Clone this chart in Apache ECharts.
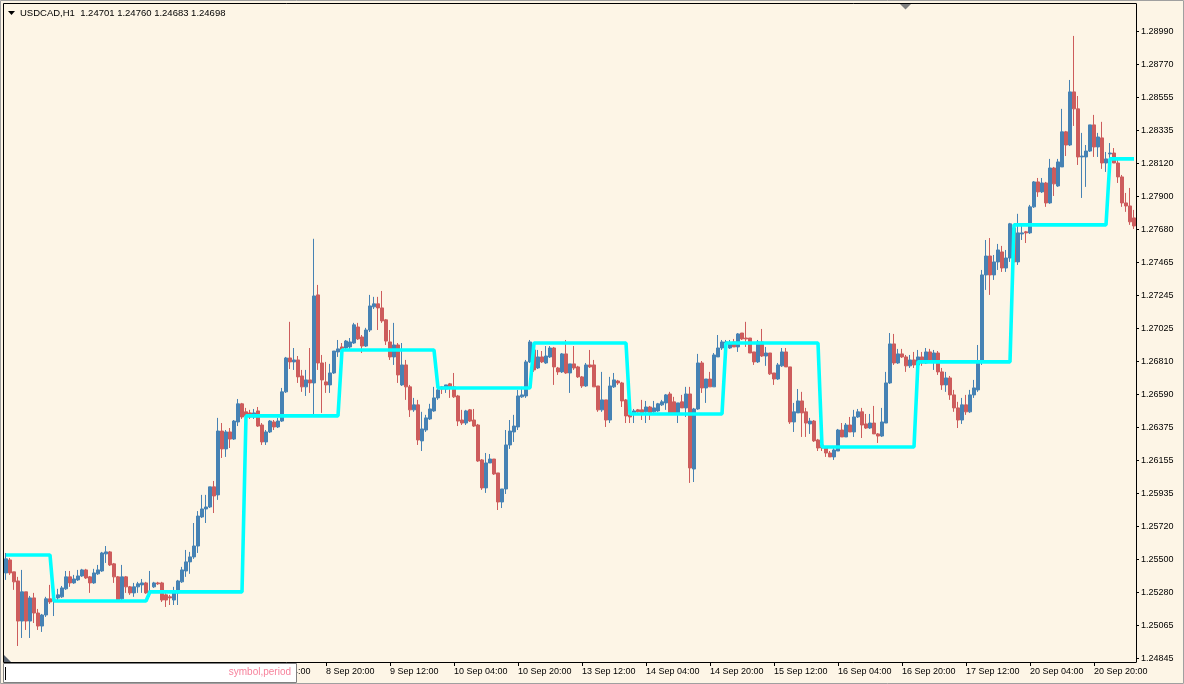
<!DOCTYPE html>
<html><head><meta charset="utf-8">
<script src="https://cdn.jsdelivr.net/npm/echarts@6/dist/echarts.min.js"></script>
<style>html,body{margin:0;padding:0;background:#FDF5E6;overflow:hidden}#c{width:1184px;height:684px}</style>
</head><body><div id="c"></div><script>
const opens = [
1.25412,1.25498,1.25419,1.25359,1.25094,1.25287,1.25094,1.25247,1.25147,1.25061,
1.25134,1.25241,1.25226,1.25247,1.25254,1.25307,1.25386,1.25346,1.25366,1.25392,
1.25432,1.25386,1.25346,1.25406,1.25425,1.25538,1.25551,1.25472,1.25386,1.25241,
1.25386,1.25320,1.25280,1.25320,1.25333,1.25346,1.25287,1.25320,1.25346,1.25346,
1.25267,1.25254,1.25233,1.25280,1.25353,1.25425,1.25485,1.25518,1.25590,1.25782,
1.25835,1.25848,1.25981,1.25928,1.26350,1.26232,1.26344,1.26297,1.26410,1.26530,
1.26477,1.26470,1.26443,1.26483,1.26390,1.26278,1.26344,1.26410,1.26377,1.26416,
1.26609,1.26833,1.26807,1.26820,1.26714,1.26642,1.26688,1.26668,1.27250,1.26800,
1.26675,1.26655,1.26734,1.26873,1.26906,1.26899,1.26906,1.26932,1.27038,1.26972,
1.26912,1.27018,1.27171,1.27191,1.27164,1.27085,1.26939,1.26840,1.26919,1.26655,
1.26787,1.26642,1.26490,1.26523,1.26285,1.26357,1.26430,1.26483,1.26569,1.26642,
1.26628,1.26662,1.26642,1.26582,1.26423,1.26403,1.26490,1.26423,1.26390,1.26159,
1.25974,1.26139,1.26165,1.26073,1.25881,1.25967,1.26258,1.26344,1.26377,1.26576,
1.26582,1.26807,1.26886,1.26767,1.26840,1.26800,1.26840,1.26899,1.26767,1.26741,
1.26860,1.26734,1.26794,1.26774,1.26708,1.26648,1.26787,1.26787,1.26648,1.26490,
1.26556,1.26423,1.26642,1.26681,1.26668,1.26556,1.26457,1.26470,1.26490,1.26490,
1.26477,1.26509,1.26477,1.26483,1.26523,1.26536,1.26595,1.26543,1.26470,1.26543,
1.26503,1.26595,1.26099,1.26496,1.26800,1.26635,1.26694,1.26642,1.26840,1.26899,
1.26932,1.26899,1.26939,1.26906,1.26998,1.26965,1.26965,1.26873,1.26807,1.26939,
1.26846,1.26866,1.26734,1.26694,1.26781,1.26873,1.26774,1.26410,1.26470,1.26549,
1.26477,1.26397,1.26416,1.26291,1.26258,1.26238,1.26205,1.26179,1.26218,1.26357,
1.26311,1.26390,1.26344,1.26443,1.26477,1.26397,1.26370,1.26403,1.26331,1.26317,
1.26403,1.26668,1.26926,1.26800,1.26860,1.26840,1.26781,1.26820,1.26787,1.26840,
1.26800,1.26873,1.26820,1.26866,1.26741,1.26655,1.26701,1.26589,1.26503,1.26423,
1.26523,1.26477,1.26589,1.26622,1.26807,1.27382,1.27507,1.27382,1.27468,1.27534,
1.27428,1.27494,1.27693,1.27468,1.27653,1.27667,1.27660,1.27832,1.27997,1.27931,
1.27990,1.27858,1.28089,1.27970,1.28096,1.28328,1.28241,1.28592,1.28480,1.28162,
1.28162,1.28201,1.28374,1.28228,1.28288,1.28122,1.28182,1.28188,1.28122,1.28030,
1.27858,1.27838,1.27759];
const closes = [
1.25505,1.25412,1.25353,1.25094,1.25287,1.25094,1.25247,1.25147,1.25061,1.25134,
1.25241,1.25220,1.25233,1.25267,1.25313,1.25386,1.25346,1.25372,1.25392,1.25432,
1.25379,1.25346,1.25412,1.25432,1.25544,1.25551,1.25465,1.25386,1.25233,1.25386,
1.25320,1.25280,1.25320,1.25340,1.25346,1.25280,1.25293,1.25346,1.25340,1.25233,
1.25233,1.25247,1.25280,1.25359,1.25432,1.25485,1.25518,1.25590,1.25788,1.25835,
1.25848,1.25981,1.25921,1.26350,1.26232,1.26344,1.26297,1.26416,1.26530,1.26443,
1.26450,1.26443,1.26470,1.26383,1.26278,1.26344,1.26416,1.26377,1.26416,1.26609,
1.26833,1.26807,1.26820,1.26708,1.26642,1.26688,1.26668,1.27243,1.26800,1.26688,
1.26655,1.26734,1.26879,1.26893,1.26886,1.26945,1.26939,1.27052,1.26959,1.26912,
1.27018,1.27177,1.27191,1.27164,1.27078,1.26945,1.26840,1.26919,1.26721,1.26787,
1.26642,1.26490,1.26523,1.26291,1.26364,1.26437,1.26496,1.26569,1.26622,1.26628,
1.26655,1.26642,1.26576,1.26416,1.26403,1.26483,1.26416,1.26383,1.26152,1.25974,
1.26139,1.26165,1.26066,1.25881,1.25967,1.26258,1.26350,1.26383,1.26582,1.26589,
1.26807,1.26939,1.26754,1.26840,1.26807,1.26846,1.26899,1.26774,1.26741,1.26860,
1.26734,1.26794,1.26767,1.26708,1.26648,1.26787,1.26774,1.26642,1.26490,1.26556,
1.26423,1.26648,1.26688,1.26668,1.26549,1.26450,1.26443,1.26483,1.26477,1.26470,
1.26509,1.26470,1.26503,1.26530,1.26543,1.26589,1.26470,1.26470,1.26536,1.26503,
1.26595,1.26106,1.26496,1.26800,1.26635,1.26694,1.26642,1.26853,1.26899,1.26939,
1.26939,1.26932,1.26906,1.26992,1.26959,1.26959,1.26866,1.26807,1.26939,1.26846,
1.26866,1.26728,1.26694,1.26787,1.26873,1.26774,1.26410,1.26477,1.26549,1.26470,
1.26403,1.26416,1.26285,1.26238,1.26238,1.26205,1.26179,1.26225,1.26357,1.26311,
1.26390,1.26344,1.26443,1.26477,1.26390,1.26370,1.26403,1.26331,1.26317,1.26410,
1.26668,1.26926,1.26800,1.26860,1.26840,1.26781,1.26820,1.26787,1.26840,1.26800,
1.26873,1.26820,1.26866,1.26741,1.26655,1.26701,1.26589,1.26503,1.26423,1.26523,
1.26477,1.26589,1.26635,1.26807,1.27382,1.27507,1.27382,1.27468,1.27547,1.27428,
1.27494,1.27720,1.27468,1.27660,1.27660,1.27660,1.27832,1.27997,1.27931,1.27990,
1.27858,1.28089,1.27984,1.28129,1.28328,1.28241,1.28592,1.28480,1.28162,1.28168,
1.28201,1.28374,1.28228,1.28294,1.28122,1.28149,1.28188,1.28122,1.28030,1.27858,
1.27838,1.27733,1.27706];
const lows = [
1.25366,1.25399,1.25300,1.24929,1.24982,1.25035,1.24982,1.25081,1.25035,1.25022,
1.25121,1.25207,1.25127,1.25233,1.25247,1.25300,1.25320,1.25340,1.25359,1.25386,
1.25372,1.25280,1.25340,1.25399,1.25419,1.25478,1.25458,1.25346,1.25226,1.25220,
1.25280,1.25267,1.25254,1.25280,1.25280,1.25274,1.25254,1.25313,1.25333,1.25220,
1.25187,1.25200,1.25200,1.25200,1.25346,1.25386,1.25406,1.25505,1.25544,1.25775,
1.25742,1.25841,1.25808,1.25895,1.26172,1.26179,1.26238,1.26291,1.26383,1.26430,
1.26443,1.26430,1.26430,1.26377,1.26258,1.26258,1.26337,1.26357,1.26370,1.26410,
1.26602,1.26760,1.26754,1.26668,1.26609,1.26582,1.26602,1.26457,1.26754,1.26470,
1.26602,1.26602,1.26728,1.26840,1.26873,1.26886,1.26886,1.26926,1.26952,1.26866,
1.26906,1.27005,1.27157,1.27018,1.27065,1.26919,1.26820,1.26787,1.26668,1.26648,
1.26556,1.26443,1.26477,1.26258,1.26218,1.26344,1.26423,1.26477,1.26556,1.26595,
1.26602,1.26569,1.26569,1.26383,1.26390,1.26390,1.26410,1.26377,1.26146,1.25961,
1.25941,1.26139,1.26060,1.25828,1.25841,1.25934,1.26232,1.26278,1.26357,1.26569,
1.26569,1.26800,1.26741,1.26760,1.26800,1.26794,1.26833,1.26655,1.26721,1.26734,
1.26728,1.26602,1.26754,1.26701,1.26635,1.26642,1.26767,1.26642,1.26477,1.26477,
1.26377,1.26403,1.26635,1.26655,1.26509,1.26403,1.26403,1.26403,1.26470,1.26423,
1.26403,1.26423,1.26470,1.26477,1.26516,1.26490,1.26463,1.26470,1.26403,1.26503,
1.26443,1.26007,1.26013,1.26490,1.26602,1.26536,1.26642,1.26642,1.26840,1.26886,
1.26886,1.26893,1.26906,1.26873,1.26952,1.26906,1.26866,1.26787,1.26800,1.26840,
1.26781,1.26721,1.26655,1.26688,1.26774,1.26774,1.26397,1.26344,1.26470,1.26311,
1.26311,1.26331,1.26278,1.26218,1.26218,1.26179,1.26179,1.26159,1.26218,1.26311,
1.26311,1.26344,1.26311,1.26437,1.26304,1.26364,1.26364,1.26331,1.26271,1.26311,
1.26403,1.26662,1.26787,1.26794,1.26833,1.26741,1.26767,1.26767,1.26774,1.26781,
1.26794,1.26807,1.26754,1.26721,1.26622,1.26609,1.26556,1.26477,1.26370,1.26397,
1.26457,1.26470,1.26569,1.26609,1.26787,1.27283,1.27250,1.27349,1.27415,1.27402,
1.27402,1.27468,1.27428,1.27448,1.27613,1.27593,1.27653,1.27825,1.27898,1.27924,
1.27832,1.27852,1.27904,1.27964,1.28096,1.28168,1.28234,1.28367,1.28109,1.27891,
1.27964,1.28195,1.28162,1.28162,1.28083,1.28063,1.28142,1.28122,1.27990,1.27832,
1.27799,1.27713,1.27686];
const highs = [
1.25544,1.25511,1.25419,1.25386,1.25432,1.25287,1.25260,1.25280,1.25174,1.25141,
1.25254,1.25333,1.25280,1.25307,1.25326,1.25425,1.25425,1.25399,1.25432,1.25439,
1.25439,1.25392,1.25439,1.25465,1.25551,1.25590,1.25557,1.25478,1.25392,1.25465,
1.25392,1.25326,1.25346,1.25353,1.25372,1.25353,1.25425,1.25353,1.25353,1.25353,
1.25280,1.25267,1.25320,1.25366,1.25452,1.25564,1.25551,1.25742,1.25821,1.25928,
1.25928,1.25981,1.26020,1.26437,1.26403,1.26357,1.26370,1.26423,1.26562,1.26536,
1.26503,1.26490,1.26496,1.26509,1.26403,1.26357,1.26423,1.26423,1.26437,1.26635,
1.26840,1.27072,1.26899,1.26846,1.26754,1.26754,1.26899,1.27621,1.27316,1.26853,
1.26807,1.26794,1.26879,1.26952,1.26932,1.26952,1.26965,1.27065,1.27065,1.26985,
1.27032,1.27250,1.27237,1.27237,1.27276,1.27091,1.27018,1.27065,1.26932,1.26932,
1.26820,1.26655,1.26569,1.26556,1.26477,1.26457,1.26530,1.26642,1.26655,1.26648,
1.26655,1.26668,1.26734,1.26589,1.26490,1.26490,1.26496,1.26496,1.26397,1.26165,
1.26205,1.26198,1.26165,1.26073,1.25967,1.26357,1.26423,1.26457,1.26622,1.26642,
1.26820,1.26952,1.26919,1.26886,1.26879,1.26912,1.26912,1.26906,1.26774,1.26866,
1.26952,1.26794,1.26912,1.26781,1.26714,1.26800,1.26886,1.26820,1.26648,1.26741,
1.26556,1.26708,1.26734,1.26688,1.26675,1.26562,1.26463,1.26496,1.26496,1.26556,
1.26549,1.26516,1.26549,1.26536,1.26556,1.26595,1.26609,1.26576,1.26536,1.26589,
1.26642,1.26642,1.26503,1.26860,1.26813,1.26694,1.26741,1.26866,1.26985,1.26952,
1.26952,1.26952,1.26959,1.26998,1.26998,1.27072,1.26965,1.26873,1.26952,1.27025,
1.26906,1.26866,1.26734,1.26800,1.26899,1.26899,1.26774,1.26536,1.26628,1.26609,
1.26503,1.26437,1.26423,1.26298,1.26271,1.26245,1.26218,1.26238,1.26364,1.26403,
1.26403,1.26443,1.26490,1.26496,1.26503,1.26463,1.26463,1.26516,1.26337,1.26503,
1.26741,1.26998,1.26992,1.26893,1.26893,1.26853,1.26853,1.26873,1.26886,1.26873,
1.26899,1.26893,1.26886,1.26879,1.26767,1.26741,1.26714,1.26622,1.26543,1.26569,
1.26589,1.26622,1.26688,1.26919,1.27415,1.27613,1.27626,1.27514,1.27587,1.27574,
1.27547,1.27726,1.27713,1.27786,1.27706,1.27673,1.27845,1.28003,1.28023,1.28023,
1.27997,1.28149,1.28096,1.28149,1.28480,1.28334,1.28671,1.28962,1.28565,1.28321,
1.28241,1.28374,1.28440,1.28321,1.28394,1.28195,1.28254,1.28221,1.28142,1.28043,
1.27924,1.27957,1.27812];
// daily level (cyan) : value per day and first bar of each day
const levelValues = [1.25531,1.25226,1.25287,1.26450,1.26886,1.26635,1.26932,1.26463,1.26932,1.26245,1.26807,1.27713,1.28149];
const levelStartBars = [0,12,36,60,84,108,132,156,180,204,228,252,276];
const timeLabels = ['8 Sep 04:00','8 Sep 20:00','9 Sep 12:00','10 Sep 04:00','10 Sep 20:00','13 Sep 12:00','14 Sep 04:00','14 Sep 20:00','15 Sep 12:00','16 Sep 04:00','16 Sep 20:00','17 Sep 12:00','20 Sep 04:00','20 Sep 20:00'];
const firstLabelBar = 64, labelStep = 16;
const priceLabels = ['1.24845','1.25065','1.25280','1.25500','1.25720','1.25935','1.26155','1.26375','1.26590','1.26810','1.27025','1.27245','1.27465','1.27680','1.27900','1.28120','1.28335','1.28555','1.28770','1.28990'];
const chartTitle = 'USDCAD,H1  1.24701 1.24760 1.24683 1.24698';

const N = opens.length;
const cats = opens.map((_, i) => String(i));
const candles = opens.map((o, i) => [o, closes[i], lows[i], highs[i]]);
const levelSeries = opens.map((_, i) => {
  let d = 0;
  for (let j = 0; j < levelStartBars.length; j++) if (i >= levelStartBars[j]) d = j;
  return levelValues[d];
});
const pLo = parseFloat(priceLabels[0]), pHi = parseFloat(priceLabels[priceLabels.length - 1]);
const pStep = (pHi - pLo) / (priceLabels.length - 1);
const tickVals = priceLabels.map((_, i) => pLo + i * pStep);
const yMin = pLo - pStep * 3.3 / 33, yMax = pHi + pStep * 27.7 / 33;
function isLabelBar(i) {
  const k = (i - firstLabelBar) / labelStep;
  return i >= firstLabelBar && Number.isInteger(k) && k < timeLabels.length;
}
const FONT = 'Liberation Sans';
const chart = echarts.init(document.getElementById('c'), null, {renderer: 'canvas'});
chart.setOption({
  backgroundColor: '#FDF5E6',
  animation: false,
  grid: {left: 4, top: 4, right: 48, bottom: 22, show: false},
  xAxis: {
    type: 'category', data: cats, boundaryGap: true,
    axisLine: {show: true, lineStyle: {color: '#000', width: 1}},
    axisTick: {show: true, interval: (i) => isLabelBar(i), alignWithLabel: true, length: 4, lineStyle: {color: '#000'}},
    axisLabel: {show: true, interval: (i) => isLabelBar(i), formatter: (v, i) => timeLabels[(i - firstLabelBar) / labelStep],
      align: 'left', color: '#000', fontSize: 9, fontFamily: FONT, margin: 5},
    splitLine: {show: false}
  },
  yAxis: {
    type: 'value', position: 'right', min: yMin, max: yMax, scale: true,
    axisLine: {show: true, lineStyle: {color: '#000', width: 1}},
    axisTick: {show: true, customValues: tickVals, length: 3, lineStyle: {color: '#000'}},
    axisLabel: {show: true, customValues: tickVals, color: '#000', fontSize: 9, fontFamily: FONT, margin: 5,
      formatter: (v) => priceLabels[Math.round((v - pLo) / pStep)] || ''},
    splitLine: {show: false}
  },
  series: [
    {type: 'candlestick', data: candles, barWidth: 3, silent: true,
     itemStyle: {color: '#4682B4', color0: '#CD5C5C', borderColor: '#4682B4', borderColor0: '#CD5C5C', borderColorDoji: '#4682B4', borderWidth: 1}},
    {type: 'line', data: levelSeries, showSymbol: false, silent: true, z: 5,
     lineStyle: {color: '#00FFFF', width: 3.6}}
  ],
  graphic: [
    {type: 'rect', z: 100, silent: true, shape: {x: 0.5, y: 0.5, width: 1183, height: 683}, style: {fill: null, stroke: '#A0A0A0', lineWidth: 1}},
    {type: 'line', z: 100, silent: true, shape: {x1: 3.5, y1: 3.5, x2: 1136.5, y2: 3.5}, style: {stroke: '#000', lineWidth: 1}},
    {type: 'line', z: 100, silent: true, shape: {x1: 3.5, y1: 3.5, x2: 3.5, y2: 662.5}, style: {stroke: '#000', lineWidth: 1}},
    {type: 'polygon', z: 100, silent: true, shape: {points: [[900, 4], [911, 4], [905.5, 9.5]]}, style: {fill: '#7F7F7F'}},
    {type: 'polygon', z: 100, silent: true, shape: {points: [[4, 655], [4, 662], [11, 662]]}, style: {fill: '#5A6470'}},
    {type: 'polygon', z: 100, silent: true, shape: {points: [[8, 11], [15, 11], [11.5, 15]]}, style: {fill: '#000'}},
    {type: 'text', z: 100, silent: true, x: 20, y: 13, style: {text: chartTitle, fill: '#000', font: '9.5px "Liberation Sans"', textVerticalAlign: 'middle'}},
    {type: 'rect', z: 100, silent: true, shape: {x: 3.5, y: 663.5, width: 293, height: 19}, style: {fill: '#FFFFFF', stroke: '#808080', lineWidth: 1}},
    {type: 'line', z: 101, silent: true, shape: {x1: 5.5, y1: 667, x2: 5.5, y2: 680}, style: {stroke: '#000', lineWidth: 1}},
    {type: 'text', z: 101, silent: true, x: 291, y: 672.5, style: {text: 'symbol,period', fill: '#F7829C', font: '10px "Liberation Sans"', textAlign: 'right', textVerticalAlign: 'middle'}}
  ]
});
</script></body></html>
